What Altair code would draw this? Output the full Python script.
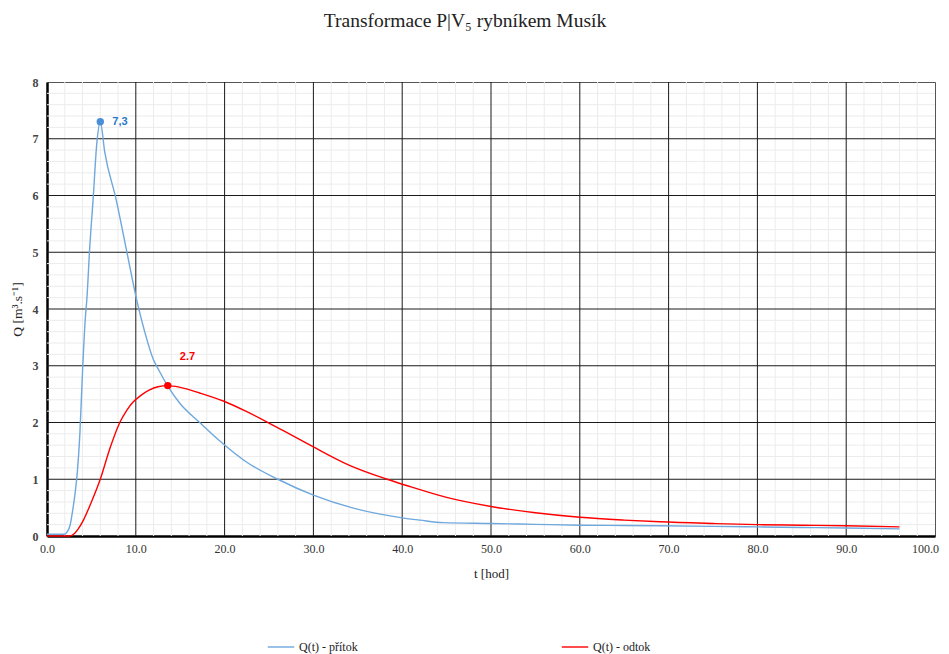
import altair as alt
import pandas as pd

# ---- data ----
t_in = [0, 2.0, 2.3, 2.6, 2.9, 3.2, 3.4, 3.7, 4.0, 4.3, 4.5, 4.8, 5.2, 5.6, 6.0,
        6.5, 7.8, 9.0, 10.1, 11.0, 12.0, 12.5, 13.6, 15.0, 17.2, 19.5, 22.5, 26.0,
        30.0, 34.5, 40.0, 42.0, 44.6, 50.0, 55.0, 60.0, 65.0, 69.0, 75.0, 80.0,
        85.0, 90.0, 96.0]
q_in = [0.03, 0.03, 0.08, 0.19, 0.46, 0.8, 1.1, 1.8, 2.9, 3.8, 4.2, 5.05, 5.95, 6.9, 7.3,
        6.77, 5.92, 5.0, 4.16, 3.6, 3.1, 2.95, 2.64, 2.33, 2.0, 1.67, 1.3, 1.0,
        0.72, 0.49, 0.32, 0.28, 0.235, 0.22, 0.205, 0.19, 0.185, 0.18, 0.17, 0.16,
        0.15, 0.14, 0.125]

t_out = [0, 2.5, 3.0, 3.5, 4.1, 5.0, 6.0, 7.1, 8.2, 9.0, 9.7, 10.5, 11.5, 12.5, 13.6,
         15.0, 17.2, 20.0, 22.5, 25.0, 27.5, 30.0, 34.0, 38.3, 40.9, 45.0, 50.0,
         55.0, 60.0, 65.0, 69.0, 75.0, 80.0, 85.0, 90.0, 96.0]
q_out = [0.0, 0.0, 0.03, 0.12, 0.28, 0.6, 1.0, 1.55, 2.0, 2.22, 2.36, 2.47, 2.57, 2.63, 2.65,
         2.62, 2.52, 2.37, 2.19, 1.99, 1.78, 1.57, 1.25, 1.0, 0.87, 0.68, 0.52,
         0.41, 0.33, 0.28, 0.25, 0.22, 0.2, 0.19, 0.18, 0.16]

series_names = ["Q(t) - přítok", "Q(t) - odtok"]
series_colors = ["#6fa8dc", "#ff0000"]

peak_t = [6.0, 13.6]
peak_q = [7.3, 2.65]
peak_labels = ["7,3", "2.7"]

x_major = [10, 20, 30, 40, 50, 60, 70, 80, 90]
x_minor = [v for v in range(2, 100, 2) if v % 10 != 0]
y_major = [1, 2, 3, 4, 5, 6, 7]
y_minor = [round(i * 0.2, 1) for i in range(1, 40) if i % 5 != 0]

x_ticks = [0, 10, 20, 30, 40, 50, 60, 70, 80, 90, 100]
y_ticks = [0, 1, 2, 3, 4, 5, 6, 7, 8]

# ---- tables ----
df = pd.concat([
    pd.DataFrame({"t": t_in, "q": q_in, "s": series_names[0]}),
    pd.DataFrame({"t": t_out, "q": q_out, "s": series_names[1]}),
], ignore_index=True)

FONT = "Liberation Serif"
xs = alt.Scale(domain=[0, 100], nice=False, zero=False)
ys = alt.Scale(domain=[0, 8], nice=False, zero=False)

x_axis = alt.Axis(values=x_ticks, format=".1f", grid=False, ticks=False, labelFlush=False,
                  labelOffset={"condition": {"test": "datum.value >= 100", "value": -10}, "value": 0},
                  domainColor="#000", domainWidth=2.5,
                  labelFont=FONT, labelFontSize=12, labelColor="#333",
                  labelPadding=7, titleFont=FONT, titleFontSize=13,
                  titleFontWeight="normal", titleColor="#222", titlePadding=13)
y_axis = alt.Axis(values=y_ticks, format="d", grid=False, ticks=False, labelFlush=False,
                  domainColor="#000", domainWidth=2.5,
                  labelFont=FONT, labelFontSize=12, labelFontWeight="bold",
                  labelColor="#444", labelPadding=9,
                  titleFont=FONT, titleFontSize=13.5, titleFontWeight="normal",
                  titleColor="#222", titlePadding=8)

X_TITLE = "t [hod]"
Y_TITLE = "Q [m³.s⁻¹]"

def X(field):
    return alt.X(field, type="quantitative", scale=xs, axis=x_axis, title=X_TITLE)

def Y(field):
    return alt.Y(field, type="quantitative", scale=ys, axis=y_axis, title=Y_TITLE)

def vrules(vals, color, width):
    return alt.Chart(pd.DataFrame({"v": vals})).mark_rule(color=color, strokeWidth=width).encode(
        x=X("v"))

def hrules(vals, color, width):
    return alt.Chart(pd.DataFrame({"v": vals})).mark_rule(color=color, strokeWidth=width).encode(
        y=Y("v"))

grid = (vrules(x_minor, "#ececec", 1) + hrules(y_minor, "#ececec", 1)
        + vrules(x_major, "#1a1a1a", 1) + hrules(y_major, "#1a1a1a", 1))

lines = alt.Chart(df).mark_line(strokeWidth=1.4, interpolate="monotone").encode(
    x=X("t"),
    y=Y("q"),
    color=alt.Color("s:N", scale=alt.Scale(domain=series_names, range=series_colors),
                    sort=series_names,
                    legend=alt.Legend(title=None, orient="none", legendX=220, legendY=551,
                                      direction="horizontal", symbolType="stroke",
                                      symbolSize=700, symbolStrokeWidth=1.4,
                                      labelFont=FONT, labelFontSize=12, labelColor="#222",
                                      labelOffset=4, columnPadding=200)),
)

peaks = pd.DataFrame({"t": peak_t, "q": peak_q, "lab": peak_labels, "s": series_names})

pt_in = alt.Chart(peaks.iloc[[0]]).mark_point(filled=True, size=55, color="#4a8fd6", opacity=1).encode(
    x=X("t"), y=Y("q"))
pt_out = alt.Chart(peaks.iloc[[1]]).mark_point(filled=True, size=55, color="#ff0000", opacity=1).encode(
    x=X("t"), y=Y("q"))
lab_in = alt.Chart(peaks.iloc[[0]]).mark_text(
    align="left", baseline="middle", dx=12, dy=0, font="Liberation Sans",
    fontSize=11, fontWeight="bold", color="#2a78c8").encode(
    x=X("t"), y=Y("q"), text="lab:N")
lab_out = alt.Chart(peaks.iloc[[1]]).mark_text(
    align="left", baseline="middle", dx=12, dy=-29, font="Liberation Sans",
    fontSize=11, fontWeight="bold", color="#ff0000").encode(
    x=X("t"), y=Y("q"), text="lab:N")

chart = alt.layer(grid, lines, pt_in, pt_out, lab_in, lab_out).properties(
    width=888, height=454,
    title=alt.TitleParams("Transformace P|V₅ rybníkem Musík", font=FONT, fontSize=19.5,
                          fontWeight="normal", color="#222", anchor="middle",
                          dx=-26, offset=45),
    autosize=alt.AutoSizeParams(type="none"),
    padding={"left": 39, "top": 74, "right": 6, "bottom": 122},
).configure_view(stroke="#555", strokeWidth=1)

chart.save("out.html", embed_options={"renderer": "svg", "actions": False})
